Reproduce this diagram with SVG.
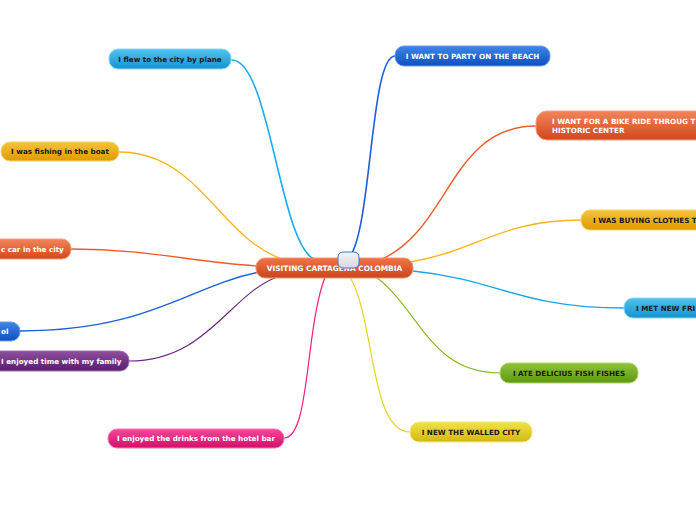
<svg xmlns="http://www.w3.org/2000/svg" width="696" height="520" viewBox="0 0 696 520">
<defs>
<linearGradient id="gOrange" x1="0" y1="0" x2="0" y2="1"><stop offset="0" stop-color="#f4845a"/><stop offset="1" stop-color="#d0481c"/></linearGradient>
<linearGradient id="gCenter" x1="0" y1="0" x2="0" y2="1"><stop offset="0" stop-color="#f07448"/><stop offset="1" stop-color="#c8461c"/></linearGradient>
<linearGradient id="gSky" x1="0" y1="0" x2="0" y2="1"><stop offset="0" stop-color="#50c4f0"/><stop offset="1" stop-color="#1592d0"/></linearGradient>
<linearGradient id="gBlue" x1="0" y1="0" x2="0" y2="1"><stop offset="0" stop-color="#3f86e4"/><stop offset="1" stop-color="#0f4fbf"/></linearGradient>
<linearGradient id="gGold" x1="0" y1="0" x2="0" y2="1"><stop offset="0" stop-color="#f6c43a"/><stop offset="1" stop-color="#e09a00"/></linearGradient>
<linearGradient id="gPurple" x1="0" y1="0" x2="0" y2="1"><stop offset="0" stop-color="#8e4f9e"/><stop offset="1" stop-color="#5a1c6c"/></linearGradient>
<linearGradient id="gPink" x1="0" y1="0" x2="0" y2="1"><stop offset="0" stop-color="#f4479a"/><stop offset="1" stop-color="#d0106a"/></linearGradient>
<linearGradient id="gGreen" x1="0" y1="0" x2="0" y2="1"><stop offset="0" stop-color="#90c43a"/><stop offset="1" stop-color="#5c9810"/></linearGradient>
<linearGradient id="gYellow" x1="0" y1="0" x2="0" y2="1"><stop offset="0" stop-color="#f0e24a"/><stop offset="1" stop-color="#d2b812"/></linearGradient>
<linearGradient id="gKnob" x1="0" y1="0" x2="0" y2="1"><stop offset="0" stop-color="#f4f6f8"/><stop offset="1" stop-color="#d4d8dc"/></linearGradient>
</defs>
<style>
.c{fill:none;stroke-linecap:round}
.t{font-family:"DejaVu Sans",Verdana,sans-serif;font-weight:bold;font-size:7.2px}
.w{fill:#ffffff}
.d{fill:#1a1a1a}
</style>
<g id="connectors">
<path class="c" d="M232,60 C270,60 280,250 316,260" stroke="#1aaaf0" stroke-width="1.6"/>
<path class="c" d="M395,56 C370,56 372,230 349,258" stroke="#1a60d8" stroke-width="1.6"/>
<path class="c" d="M536,126 C450,126 450,230 380,260" stroke="#f05a2c" stroke-width="1.4"/>
<path class="c" d="M581,220 C500,220 480,250 410,262" stroke="#fbb41c" stroke-width="1.4"/>
<path class="c" d="M413,271 C500,280 520,308 624,308" stroke="#18a4ec" stroke-width="1.4"/>
<path class="c" d="M376,277 C420,310 430,373 500,373" stroke="#88bc2c" stroke-width="1.2"/>
<path class="c" d="M350,277 C375,320 370,432 410,432" stroke="#e8d420" stroke-width="1.2"/>
<path class="c" d="M325,277 C305,330 310,438 284,438" stroke="#f41c7c" stroke-width="1.2"/>
<path class="c" d="M119,152 C200,152 220,240 285,260" stroke="#fbb41c" stroke-width="1.3"/>
<path class="c" d="M71,249 C150,249 190,262 258,266" stroke="#f05a2c" stroke-width="1.3"/>
<path class="c" d="M20,331 C150,331 190,285 260,272" stroke="#1a60d8" stroke-width="1.3"/>
<path class="c" d="M129,361 C210,361 230,290 283,275" stroke="#6a2a7c" stroke-width="1.2"/>
</g>
<g id="n-plane"><rect x="109" y="49" width="122" height="20" rx="9" fill="url(#gSky)" stroke="#8cd8f6" stroke-width="1"/><text class="t d" x="170" y="61.5" text-anchor="middle">I flew to the city by plane</text></g>
<g id="n-fishing"><rect x="1" y="142" width="118" height="19" rx="9" fill="url(#gGold)" stroke="#f8d270" stroke-width="1"/><text class="t d" x="60" y="154" text-anchor="middle">I was fishing in the boat</text></g>
<g id="n-car"><rect x="-20" y="239" width="91" height="20" rx="9" fill="url(#gOrange)" stroke="#f8a080" stroke-width="1"/><text class="t w" x="1" y="251.5">c car in the city</text></g>
<g id="n-ol"><rect x="-20" y="322" width="40" height="19" rx="9" fill="url(#gBlue)" stroke="#6a9eee" stroke-width="1"/><text class="t w" x="1" y="334">ol</text></g>
<g id="n-family"><rect x="-10" y="351" width="139" height="20" rx="9" fill="url(#gPurple)" stroke="#a070b0" stroke-width="1"/><text class="t w" x="1" y="363.5">I enjoyed time with my family</text></g>
<g id="n-drinks"><rect x="108" y="429" width="176" height="19" rx="9" fill="url(#gPink)" stroke="#f878b4" stroke-width="1"/><text class="t w" x="196" y="441" text-anchor="middle">I enjoyed the drinks from the hotel bar</text></g>
<g id="n-party"><rect x="395" y="46" width="155" height="20" rx="9" fill="url(#gBlue)" stroke="#6a9eee" stroke-width="1"/><text class="t w" x="472.5" y="58.5" text-anchor="middle">I WANT TO PARTY ON THE BEACH</text></g>
<g id="n-bike"><rect x="536" y="111" width="180" height="29" rx="11" fill="url(#gOrange)" stroke="#f8a080" stroke-width="1"/><text class="t w" x="552" y="123.5">I WANT FOR A BIKE RIDE THROUG T</text><text class="t w" x="552" y="132.5">HISTORIC CENTER</text></g>
<g id="n-buying"><rect x="581" y="210" width="130" height="20" rx="9" fill="url(#gGold)" stroke="#f8d270" stroke-width="1"/><text class="t d" x="593" y="222.5">I WAS BUYING CLOTHES T</text></g>
<g id="n-met"><rect x="624" y="298" width="90" height="20" rx="9" fill="url(#gSky)" stroke="#8cd8f6" stroke-width="1"/><text class="t d" x="636" y="310.5">I MET NEW FRI</text></g>
<g id="n-fish"><rect x="500" y="363" width="138" height="20" rx="9" fill="url(#gGreen)" stroke="#b0d870" stroke-width="1"/><text class="t d" x="569" y="375.5" text-anchor="middle">I ATE DELICIUS FISH FISHES</text></g>
<g id="n-walled"><rect x="410" y="422" width="122" height="20" rx="9" fill="url(#gYellow)" stroke="#f4ea80" stroke-width="1"/><text class="t d" x="471" y="434.5" text-anchor="middle">I NEW THE WALLED CITY</text></g>
<g id="n-center"><rect x="256" y="258" width="157" height="20" rx="9" fill="url(#gCenter)" stroke="#f49870" stroke-width="1"/><text class="t w" x="334.5" y="270.5" text-anchor="middle" style="font-size:7.4px">VISITING CARTAGENA COLOMBIA</text><rect x="338" y="252" width="21" height="16" rx="5" fill="url(#gKnob)" stroke="#3a7cc0" stroke-width="1"/></g>
</svg>
